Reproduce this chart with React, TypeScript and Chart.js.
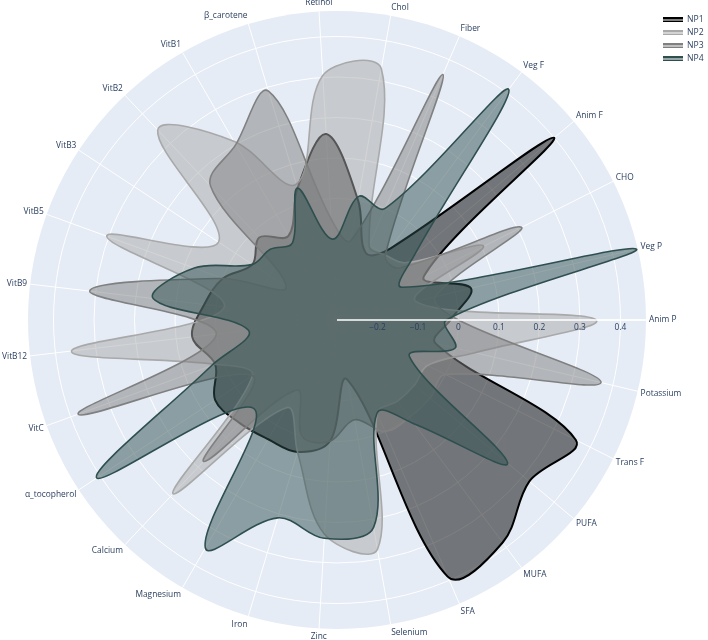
import React, { useEffect, useRef } from "react";
import { Chart, registerables } from "chart.js";

Chart.register(...registerables);

// ---- data (counter-clockwise from the east, as in the source) ----
const categories = [
  "Anim P", "Veg P", "CHO", "Anim F", "Veg F", "Fiber", "Chol", "Retinol",
  "β_carotene", "VitB1", "VitB2", "VitB3", "VitB5", "VitB9", "VitB12", "VitC",
  "α_tocopherol", "Calcium", "Magnesium", "Iron", "Zinc", "Selenium", "SFA",
  "MUFA", "PUFA", "Trans F", "Potassium",
];

const np1 = [
  -0.02, 0.04, -0.06, 0.40, -0.08, -0.12, 0.0, 0.16, 0.04, -0.06, -0.02, -0.05,
  0.0, 0.03, 0.06, 0.02, 0.06, 0.05, 0.04, 0.04, 0.0, -0.15, 0.39, 0.385, 0.32,
  0.36, -0.05,
];
const np2 = [
  0.34, -0.1, 0.105, -0.08, -0.1, -0.1, 0.33, 0.305, 0.05, 0.21, 0.345, 0.05,
  0.305, -0.02, 0.36, 0.02, -0.05, 0.29, -0.05, 0.04, 0.23, 0.275, -0.05, -0.05,
  -0.05, -0.05, 0.05,
];
const np3 = [
  0.0, -0.05, 0.21, -0.1, -0.1, 0.36, -0.1, -0.05, 0.29, 0.2, 0.155, -0.15, 0.0,
  0.315, 0.0, 0.38, -0.05, 0.18, -0.1, 0.0, 0.0, -0.05, 0.0, 0.0, 0.0, 0.0,
  0.37,
];
const np4 = [
  -0.03, 0.46, -0.12, -0.05, 0.41, 0.0, 0.01, -0.1, 0.04, -0.08, -0.06, -0.05,
  0.075, 0.157, -0.08, 0.03, 0.41, 0.0, 0.35, 0.21, 0.24, 0.22, -0.05, 0.02,
  0.25, -0.1, 0.0,
];

const seriesNames = ["NP1", "NP2", "NP3", "NP4"];
const seriesValues = [np1, np2, np3, np4];
const lineColors = ["#000000", "#a9a9a9", "#808080", "#2f4f4f"];
const fillColors = [
  "rgba(0,0,0,0.5)",
  "rgba(169,169,169,0.5)",
  "rgba(128,128,128,0.5)",
  "rgba(47,79,79,0.5)",
];

const radialTicks = [-0.3, -0.2, -0.1, 0, 0.1, 0.2, 0.3, 0.4];
const tickLabels = ["", "−0.2", "−0.1", "0", "0.1", "0.2", "0.3", "0.4"];
const radialMin = -0.3;
const radialMax = 0.463;

// ---- layout ----
const W = 708;
const H = 640;
const CX = 337;
const CY = 320;
const R = 309;
const FONT = "Open Sans, verdana, arial, sans-serif";
const TEXT = "#2a3f5f";

// Chart.js radar runs clockwise: keep the first category at the east,
// then walk the source order backwards so the result reads counter-clockwise.
const order = [0, ...categories.map((_, i) => i).slice(1).reverse()];

const polarPlugin = {
  id: "polarPlotly",
  afterLayout(chart: any) {
    const s = chart.scales.r;
    s.xCenter = CX;
    s.yCenter = CY;
    s.drawingArea = R;
  },
  afterDatasetsDraw(chart: any) {
    const s = chart.scales.r;
    const ctx = chart.ctx;
    ctx.save();
    // radial axis line (above traces)
    const end = s.getPointPositionForValue(0, radialMax);
    ctx.strokeStyle = "#ffffff";
    ctx.lineWidth = 1.5;
    ctx.beginPath();
    ctx.moveTo(s.xCenter, s.yCenter);
    ctx.lineTo(end.x, end.y);
    ctx.stroke();
    // radial tick labels
    ctx.fillStyle = TEXT;
    ctx.font = `8.4px ${FONT}`;
    ctx.textAlign = "center";
    ctx.textBaseline = "middle";
    radialTicks.forEach((v, i) => {
      if (!tickLabels[i]) return;
      const p = s.getPointPositionForValue(0, v);
      ctx.fillText(tickLabels[i], p.x, p.y + 7.5);
    });
    // angular labels
    chart.data.labels.forEach((lab: string, i: number) => {
      const p = s.getPointPosition(i, s.drawingArea + 3);
      const ang = Math.atan2(p.y - s.yCenter, p.x - s.xCenter);
      const c = Math.cos(ang);
      const sn = Math.sin(ang); // screen-down positive
      ctx.textAlign = c > 0.1 ? "left" : c < -0.1 ? "right" : "center";
      ctx.textBaseline = "middle";
      ctx.fillText(lab, p.x, p.y + sn * 5.5);
    });
    ctx.restore();
  },
};

export default function App() {
  const ref = useRef<HTMLCanvasElement | null>(null);

  useEffect(() => {
    if (!ref.current) return;
    const labels = order.map((i) => categories[i]);
    const datasets = seriesValues.map((vals, k) => ({
      label: seriesNames[k],
      data: order.map((i) => vals[i]),
      borderColor: lineColors[k],
      backgroundColor: fillColors[k],
      borderWidth: k === 0 ? 2 : 1.6,
      fill: "start",
      tension: 0.36,
      pointRadius: 0,
      pointHoverRadius: 0,
      order: seriesValues.length - k,
    }));
    const chart = new Chart(ref.current, {
      type: "radar",
      data: { labels, datasets },
      options: {
        responsive: false,
        animation: false,
        events: [],
        layout: { padding: 0 },
        elements: { line: { capBezierPoints: false } },
        plugins: { legend: { display: false }, tooltip: { enabled: false } },
        scales: {
          r: {
            min: radialMin,
            max: radialMax,
            startAngle: 90,
            backgroundColor: "#e5ecf6",
            afterBuildTicks: (scale: any) => {
              scale.ticks = radialTicks.map((v) => ({ value: v }));
            },
            grid: { color: "#ffffff", lineWidth: 1, circular: true },
            angleLines: { color: "#ffffff", lineWidth: 1 },
            ticks: { display: false },
            pointLabels: { display: false },
          },
        },
      },
      plugins: [polarPlugin],
    } as any);
    return () => chart.destroy();
  }, []);

  return (
    <div style={{ position: "fixed", left: 0, top: 0, width: W, height: H, background: "#fff" }}>
      <canvas ref={ref} width={W} height={H} style={{ position: "absolute", left: 0, top: 0 }} />
      <div
        style={{
          position: "absolute",
          left: 663,
          top: 13,
          fontFamily: FONT,
          fontSize: "8.6px",
          color: TEXT,
          lineHeight: "13px",
        }}
      >
        {seriesNames.map((n, k) => (
          <div key={n} style={{ display: "flex", alignItems: "center", height: 13 }}>
            <span
              style={{
                display: "inline-block",
                width: 20,
                height: 5,
                background: fillColors[k],
                borderTop: `2px solid ${lineColors[k]}`,
                borderBottom: `1px solid ${lineColors[k]}`,
                boxSizing: "border-box",
                marginRight: 4,
              }}
            />
            <span>{n}</span>
          </div>
        ))}
      </div>
    </div>
  );
}
